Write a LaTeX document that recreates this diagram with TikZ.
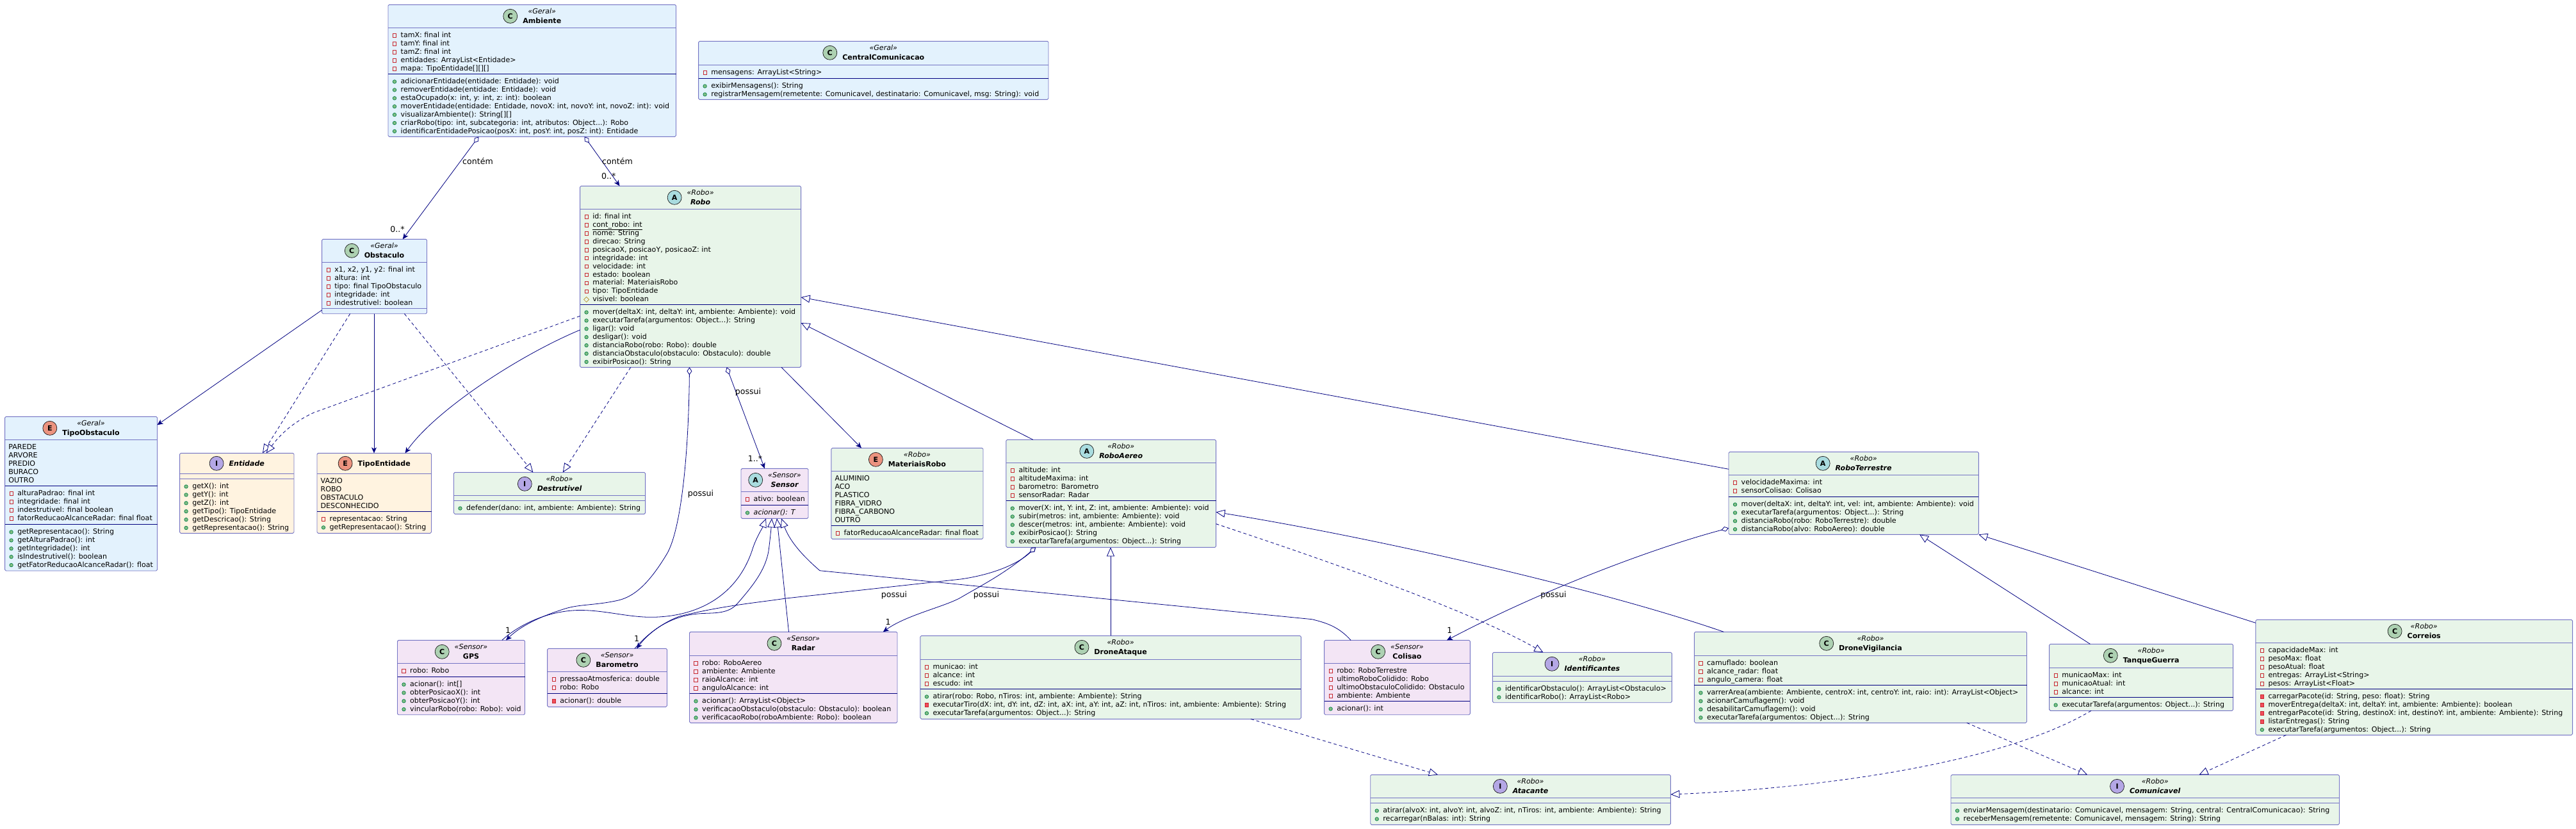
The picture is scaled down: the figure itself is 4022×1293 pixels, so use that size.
\documentclass[tikz,border=0pt]{standalone}
\usepackage{fontspec}
\setmainfont{DejaVu Sans}
\usetikzlibrary{arrows.meta,shapes.geometric}

\definecolor{geralfill}{HTML}{E3F2FD}
\definecolor{robofill}{HTML}{E8F5E9}
\definecolor{sensorfill}{HTML}{F3E5F5}
\definecolor{corefill}{HTML}{FFF3E0}
\definecolor{boxline}{HTML}{7474C4}
\definecolor{linknavy}{HTML}{000080}
\definecolor{iconC}{HTML}{ADD1B2}
\definecolor{iconA}{HTML}{A9DCDF}
\definecolor{iconI}{HTML}{B4A7E5}
\definecolor{iconE}{HTML}{EB937F}
\definecolor{privline}{HTML}{C82930}
\definecolor{privfill}{HTML}{F24D5C}
\definecolor{publine}{HTML}{038048}
\definecolor{pubfill}{HTML}{84BE84}
\definecolor{protline}{HTML}{B38D22}

\newcommand{\umlfont}{\fontsize{11.07}{13}\selectfont}
\newcommand{\labelfont}{\fontsize{12.6}{15}\selectfont}

\tikzset{
  classbox/.style={draw=boxline,line width=0.9pt,rectangle,rounded corners=1.8pt,inner sep=0pt,outer sep=0pt},
  geral/.style={fill=geralfill},
  robo/.style={fill=robofill},
  sensor/.style={fill=sensorfill},
  core/.style={fill=corefill},
  kindicon/.style={circle,draw=black!90,line width=0.7pt,minimum size=22pt,inner sep=0pt,font=\umlfont\bfseries},
  kindC/.style={fill=iconC},
  kindA/.style={fill=iconA},
  kindI/.style={fill=iconI},
  kindE/.style={fill=iconE},
  headtext/.style={anchor=base,inner sep=0pt,font=\umlfont},
  rowtext/.style={anchor=base west,inner sep=0pt,font=\umlfont},
  iconpv/.style={rectangle,draw=privline,line width=0.7pt,minimum size=5.5pt,inner sep=0pt},
  iconpr/.style={rectangle,draw=privline,fill=privfill,line width=0.7pt,minimum size=5.5pt,inner sep=0pt},
  iconpb/.style={circle,draw=publine,fill=pubfill,line width=0.7pt,minimum size=5.5pt,inner sep=0pt},
  iconpt/.style={diamond,draw=protline,line width=0.7pt,minimum size=8.5pt,inner sep=0pt},
  sepl/.style={draw=boxline,line width=0.9pt},
  sepd/.style={draw=linknavy,line width=1pt},
  link/.style={draw=linknavy,line width=0.8pt},
  assoc/.style={link,-{Stealth[length=9pt,width=8pt,inset=2.5pt]}},
  aggr/.style={link,{Diamond[length=12pt,width=8pt,fill=white]}-{Stealth[length=9pt,width=8pt,inset=2.5pt]}},
  extend/.style={link,-{Triangle[length=14pt,width=12pt,fill=white]}},
  realize/.style={extend,dash pattern=on 5pt off 4pt},
  linklabel/.style={inner sep=0pt,font=\labelfont},
}

\newlength\namew
\newlength\stw
\newlength\tmpw
\newcounter{rowno}

% [fill] id kind stereotype name left top right bottom
\newcommand{\umlclass}[9][geral]{%
  \gdef\curid{#2}\gdef\curL{#6}%
  \node[classbox,#1,minimum width={(#8-#6)*1pt},minimum height={(#9-#7)*1pt}] (#2) at ({(#6+#8)/2},{(#7+#9)/2}) {};
  \pgfinterruptpicture
    \settowidth\tmpw{\umlfont\bfseries #5}\global\namew=\tmpw
    \ifx\relax#4\relax \global\stw=0pt \else \settowidth\tmpw{\umlfont\itshape «#4»}\global\stw=\tmpw \fi
  \endpgfinterruptpicture
  \pgfmathsetmacro\hdw{max(\namew,\stw)}%
  \pgfmathsetmacro\hdx{(#6+#8)/2-(31+\hdw)/2}%
  \ifx\relax#4\relax
    \node[kindicon,kind#3] (#2-ic) at ({\hdx+11.5},{#7+16}) {#3};
    \node[headtext] (#2-nm) at ({\hdx+31+\hdw/2},{#7+20}) {\bfseries #5};
  \else
    \node[kindicon,kind#3] (#2-ic) at ({\hdx+11.5},{#7+18}) {#3};
    \node[headtext] (#2-st) at ({\hdx+31+\hdw/2},{#7+14.5}) {\itshape «#4»};
    \node[headtext] (#2-nm) at ({\hdx+31+\hdw/2},{#7+28.7}) {\bfseries #5};
  \fi
}
\newcommand{\sepl}[1]{\draw[sepl] (\curid.west |- 0,#1) -- (\curid.east |- 0,#1);}
\newcommand{\sepd}[1]{\draw[sepd] (\curid.west |- 0,#1) -- (\curid.east |- 0,#1);}
\newcommand{\rows}[2]{%
  \foreach \rk/\rt [count=\rn] in {#2} {
    \stepcounter{rowno}
    \node[style/.expanded=icon\rk] (\curid-i\therowno) at ({\curL+10},{#1+12.2+12.9*(\rn-1)}) {};
    \node[rowtext] (\curid-r\therowno) at ({\curL+19.5},{#1+15.4+12.9*(\rn-1)}) {\rt};
  }
}
\newcommand{\vals}[2]{%
  \foreach \rt [count=\rn] in {#2} {
    \stepcounter{rowno}
    \node[rowtext] (\curid-r\therowno) at ({\curL+5.5},{#1+15.4+12.9*(\rn-1)}) {\rt};
  }
}

\begin{document}
\begin{tikzpicture}[x=1pt,y=-1pt]
  \useasboundingbox (0,0) rectangle (4022,1293);

  \umlclass[geral]{Ambiente}{C}{Geral}{Ambiente}{606}{7.3}{1055.5}{213.3}
  \sepl{43.3}
  \rows{43.3}{pv/{tamX: final int},pv/{tamY: final int},pv/{tamZ: final int},pv/{entidades: ArrayList<Entidade>},pv/{mapa: TipoEntidade[][][]}}
  \sepd{115.3}
  \rows{115.3}{pb/{adicionarEntidade(entidade: Entidade): void},pb/{removerEntidade(entidade: Entidade): void},pb/{estaOcupado(x: int, y: int, z: int): boolean},pb/{moverEntidade(entidade: Entidade, novoX: int, novoY: int, novoZ: int): void},pb/{visualizarAmbiente(): String[][]},pb/{criarRobo(tipo: int, subcategoria: int, atributos: Object...): Robo},pb/{identificarEntidadePosicao(posX: int, posY: int, posZ: int): Entidade}}

  \umlclass[geral]{CentralComunicacao}{C}{Geral}{CentralComunicacao}{1090.6}{64.3}{1637}{155.3}
  \sepl{101.3}
  \rows{101.3}{pv/{mensagens: ArrayList<String>}}
  \sepd{122.3}
  \rows{122.3}{pb/{exibirMensagens(): String},pb/{registrarMensagem(remetente: Comunicavel, destinatario: Comunicavel, msg: String): void}}

  \umlclass[geral]{Obstaculo}{C}{Geral}{Obstaculo}{502.6}{373.3}{666.5}{489.7}
  \sepl{409.3}
  \rows{409.3}{pv/{x1, x2, y1, y2: final int},pv/{altura: int},pv/{tipo: final TipoObstaculo},pv/{integridade: int},pv/{indestrutivel: boolean}}
  \sepl{481.3}

  \umlclass[geral]{TipoObstaculo}{E}{Geral}{TipoObstaculo}{7.6}{650.3}{245.5}{891}
  \sepl{686.3}
  \vals{686.3}{PAREDE,ARVORE,PREDIO,BURACO,OUTRO}
  \sepd{758.3}
  \rows{758.3}{pv/{alturaPadrao: final int},pv/{integridade: final int},pv/{indestrutivel: final boolean},pv/{fatorReducaoAlcanceRadar: final float}}
  \sepd{818.3}
  \rows{818.3}{pb/{getRepresentacao(): String},pb/{getAlturaPadrao(): int},pb/{getIntegridade(): int},pb/{isIndestrutivel(): boolean},pb/{getFatorReducaoAlcanceRadar(): float}}

  \umlclass[core]{Entidade}{I}{}{\itshape Entidade}{280.6}{707.3}{459}{832.3}
  \sepl{739.3}
  \sepl{747.3}
  \rows{747.3}{pb/{getX(): int},pb/{getY(): int},pb/{getZ(): int},pb/{getTipo(): TipoEntidade},pb/{getDescricao(): String},pb/{getRepresentacao(): String}}

  \umlclass[core]{TipoEntidade}{E}{}{TipoEntidade}{495}{707.3}{673.5}{832.3}
  \sepl{739.3}
  \vals{739.3}{VAZIO,ROBO,OBSTACULO,DESCONHECIDO}
  \sepd{798.3}
  \rows{798.3}{pv/{representacao: String},pb/{getRepresentacao(): String}}

  \umlclass[robo]{Destrutivel}{I}{Robo}{\itshape Destrutivel}{708.5}{737.3}{1007.6}{802.3}
  \sepl{773.3}
  \sepl{781.3}
  \rows{781.3}{pb/{defender(dano: int, ambiente: Ambiente): String}}

  \umlclass[robo]{Robo}{A}{Robo}{\itshape Robo}{905.6}{290.3}{1250.6}{573.3}
  \sepl{326.3}
  \rows{326.3}{pv/{id: final int},pv/{\underline{cont\_robo: int}},pv/{nome: String},pv/{direcao: String},pv/{posicaoX, posicaoY, posicaoZ: int},pv/{integridade: int},pv/{velocidade: int},pv/{estado: boolean},pv/{material: MateriaisRobo},pv/{tipo: TipoEntidade},pt/{visivel: boolean}}
  \sepd{475.3}
  \rows{475.3}{pb/{mover(deltaX: int, deltaY: int, ambiente: Ambiente): void},pb/{executarTarefa(argumentos: Object...): String},pb/{ligar(): void},pb/{desligar(): void},pb/{distanciaRobo(robo: Robo): double},pb/{distanciaObstaculo(obstaculo: Obstaculo): double},pb/{exibirPosicao(): String}}

  \umlclass[sensor]{Sensor}{A}{Sensor}{\itshape Sensor}{1157}{731.3}{1262}{809.3}
  \sepl{767.3}
  \rows{767.3}{pv/{ativo: boolean}}
  \sepd{788.3}
  \rows{788.3}{pb/{\itshape acionar(): T}}

  \umlclass[robo]{MateriaisRobo}{E}{Robo}{MateriaisRobo}{1297.8}{699.3}{1535}{841.3}
  \sepl{735.3}
  \vals{735.3}{ALUMINIO,ACO,PLASTICO,FIBRA\_VIDRO,FIBRA\_CARBONO,OUTRO}
  \sepd{820.3}
  \rows{820.3}{pv/{fatorReducaoAlcanceRadar: final float}}

  \umlclass[robo]{RoboAereo}{A}{Robo}{\itshape RoboAereo}{1570.8}{686.3}{1898.6}{854.3}
  \sepl{722.3}
  \rows{722.3}{pv/{altitude: int},pv/{altitudeMaxima: int},pv/{barometro: Barometro},pv/{sensorRadar: Radar}}
  \sepd{781.3}
  \rows{781.3}{pb/{mover(X: int, Y: int, Z: int, ambiente: Ambiente): void},pb/{subir(metros: int, ambiente: Ambiente): void},pb/{descer(metros: int, ambiente: Ambiente): void},pb/{exibirPosicao(): String},pb/{executarTarefa(argumentos: Object...): String}}

  \umlclass[robo]{RoboTerrestre}{A}{Robo}{\itshape RoboTerrestre}{2699}{705.3}{3089.3}{834.3}
  \sepl{741.3}
  \rows{741.3}{pv/{velocidadeMaxima: int},pv/{sensorColisao: Colisao}}
  \sepd{775.3}
  \rows{775.3}{pb/{mover(deltaX: int, deltaY: int, vel: int, ambiente: Ambiente): void},pb/{executarTarefa(argumentos: Object...): String},pb/{distanciaRobo(robo: RoboTerrestre): double},pb/{distanciaRobo(alvo: RoboAereo): double}}

  \umlclass[sensor]{GPS}{C}{Sensor}{GPS}{620.5}{999.3}{819.5}{1115.7}
  \sepl{1035.3}
  \rows{1035.3}{pv/{robo: Robo}}
  \sepd{1056.3}
  \rows{1056.3}{pb/{acionar(): int[]},pb/{obterPosicaoX(): int},pb/{obterPosicaoY(): int},pb/{vincularRobo(robo: Robo): void}}

  \umlclass[sensor]{Barometro}{C}{Sensor}{Barometro}{854.6}{1012.3}{1041.5}{1103.3}
  \sepl{1048.3}
  \rows{1048.3}{pv/{pressaoAtmosferica: double},pv/{robo: Robo}}
  \sepd{1082.3}
  \rows{1082.3}{pr/{acionar(): double}}

  \umlclass[sensor]{Radar}{C}{Sensor}{Radar}{1076.5}{986.3}{1401}{1128.3}
  \sepl{1023.3}
  \rows{1023.3}{pv/{robo: RoboAereo},pv/{ambiente: Ambiente},pv/{raioAlcance: int},pv/{anguloAlcance: int}}
  \sepd{1082.3}
  \rows{1082.3}{pb/{acionar(): ArrayList<Object>},pb/{verificacaoObstaculo(obstaculo: Obstaculo): boolean},pb/{verificacaoRobo(roboAmbiente: Robo): boolean}}

  \umlclass[robo]{DroneAtaque}{C}{Robo}{DroneAtaque}{1436.9}{992.3}{2031.3}{1122.3}
  \sepl{1029.3}
  \rows{1029.3}{pv/{municao: int},pv/{alcance: int},pv/{escudo: int}}
  \sepd{1075.3}
  \rows{1075.3}{pb/{atirar(robo: Robo, nTiros: int, ambiente: Ambiente): String},pr/{executarTiro(dX: int, dY: int, dZ: int, aX: int, aY: int, aZ: int, nTiros: int, ambiente: Ambiente): String},pb/{executarTarefa(argumentos: Object...): String}}

  \umlclass[sensor]{Colisao}{C}{Sensor}{Colisao}{2067.6}{999.3}{2295.3}{1115.7}
  \sepl{1035.3}
  \rows{1035.3}{pv/{robo: RoboTerrestre},pv/{ultimoRoboColidido: Robo},pv/{ultimoObstaculoColidido: Obstaculo},pv/{ambiente: Ambiente}}
  \sepd{1094.3}
  \rows{1094.3}{pb/{acionar(): int}}

  \umlclass[robo]{Identificantes}{I}{Robo}{\itshape Identificantes}{2330.4}{1018.3}{2610.3}{1096.7}
  \sepl{1055.3}
  \sepl{1063.3}
  \rows{1063.3}{pb/{identificarObstaculo(): ArrayList<Obstaculo>},pb/{identificarRobo(): ArrayList<Robo>}}

  \umlclass[robo]{DroneVigilancia}{C}{Robo}{DroneVigilancia}{2645.4}{986.3}{3164.5}{1128.3}
  \sepl{1023.3}
  \rows{1023.3}{pv/{camuflado: boolean},pv/{alcance\_radar: float},pv/{angulo\_camera: float}}
  \sepd{1069.3}
  \rows{1069.3}{pb/{varrerArea(ambiente: Ambiente, centroX: int, centroY: int, raio: int): ArrayList<Object>},pb/{acionarCamuflagem(): void},pb/{desabilitarCamuflagem(): void},pb/{executarTarefa(argumentos: Object...): String}}

  \umlclass[robo]{TanqueGuerra}{C}{Robo}{TanqueGuerra}{3199.6}{1005.3}{3486.6}{1109.3}
  \sepl{1042.3}
  \rows{1042.3}{pv/{municaoMax: int},pv/{municaoAtual: int},pv/{alcance: int}}
  \sepd{1088.3}
  \rows{1088.3}{pb/{executarTarefa(argumentos: Object...): String}}

  \umlclass[robo]{Correios}{C}{Robo}{Correios}{3521.8}{967.3}{4016.5}{1147.3}
  \sepl{1003.3}
  \rows{1003.3}{pv/{capacidadeMax: int},pv/{pesoMax: float},pv/{pesoAtual: float},pv/{entregas: ArrayList<String>},pv/{pesos: ArrayList<Float>}}
  \sepd{1075.3}
  \rows{1075.3}{pr/{carregarPacote(id: String, peso: float): String},pr/{moverEntrega(deltaX: int, deltaY: int, ambiente: Ambiente): boolean},pr/{entregarPacote(id: String, destinoX: int, destinoY: int, ambiente: Ambiente): String},pr/{listarEntregas(): String},pb/{executarTarefa(argumentos: Object...): String}}

  \umlclass[robo]{Atacante}{I}{Robo}{\itshape Atacante}{2139.7}{1209.3}{2608.4}{1287.3}
  \sepl{1245.3}
  \sepl{1253.3}
  \rows{1253.3}{pb/{atirar(alvoX: int, alvoY: int, alvoZ: int, nTiros: int, ambiente: Ambiente): String},pb/{recarregar(nBalas: int): String}}

  \umlclass[robo]{Comunicavel}{I}{Robo}{\itshape Comunicavel}{3046}{1209.3}{3652.4}{1287.3}
  \sepl{1245.3}
  \sepl{1253.3}
  \rows{1253.3}{pb/{enviarMensagem(destinatario: Comunicavel, mensagem: String, central: CentralComunicacao): String},pb/{receberMensagem(remetente: Comunicavel, mensagem: String): String}}

  \draw[aggr] (747.4,0 |- Ambiente.south) -- (628.8,0 |- Obstaculo.north);
  \draw[aggr] (912.6,0 |- Ambiente.south) -- (967.5,0 |- Robo.north);
  \draw[assoc] (Obstaculo.west |- 0,484) -- (TipoObstaculo.east |- 0,663.3);
  \draw[realize] (546.6,0 |- Obstaculo.south) -- (410,0 |- Entidade.north);
  \draw[assoc] (584,0 |- Obstaculo.south) -- (584,0 |- TipoEntidade.north);
  \draw[realize] (631.4,0 |- Obstaculo.south) -- (832.3,0 |- Destrutivel.north);
  \draw[realize] (Robo.west |- 0,493.3) -- (490,644) .. controls (460,658) and (440,675) .. (415.8,0 |- Entidade.north);
  \draw[assoc] (Robo.west |- 0,515) .. controls (810,555) and (680,640) .. (632.6,0 |- TipoEntidade.north);
  \draw[realize] (984.7,0 |- Robo.south) -- (878.8,0 |- Destrutivel.north);
  \draw[aggr] (1076.5,0 |- Robo.south) .. controls (1075,720) and (1062,830) .. (1041,865) .. controls (1018,903) and (995,930) .. (965.6,937) .. controls (930,945) and (905,943) .. (882.6,950) .. controls (850,960) and (815,975) .. (790,0 |- GPS.north);
  \draw[aggr] (1134.6,0 |- Robo.south) -- (1193.9,0 |- Sensor.north);
  \draw[assoc] (1220,0 |- Robo.south) -- (1345,0 |- MateriaisRobo.north);
  \draw[extend] (1612.9,0 |- RoboAereo.north) -- (Robo.east |- 0,504);
  \draw[extend] (RoboTerrestre.west |- 0,732.3) -- (Robo.east |- 0,464);
  \draw[extend] (783.8,0 |- GPS.north) .. controls (810,975) and (860,950) .. (914.5,952.7) .. controls (950,954) and (985,964) .. (1020,963.3) .. controls (1090,962) and (1150,930) .. (1174,860) .. controls (1180,840) and (1190,825) .. (1196,0 |- Sensor.south);
  \draw[extend] (991,0 |- Barometro.north) .. controls (1015,985) and (1045,962) .. (1090,958) .. controls (1110,956) and (1135,960) .. (1150.5,943) .. controls (1175,915) and (1195,890) .. (1200,860) .. controls (1202,845) and (1204,825) .. (1205,0 |- Sensor.south);
  \draw[extend] (1231.5,0 |- Radar.north) -- (1213,0 |- Sensor.south);
  \draw[extend] (2109,0 |- Colisao.north) .. controls (2090,978) and (2070,972) .. (2048.5,966.7) -- (1280,890.7) .. controls (1262,875) and (1235,850) .. (1220,0 |- Sensor.south);
  \draw[aggr] (1617,0 |- RoboAereo.south) .. controls (1590,880) and (1550,897) .. (1500,904) -- (1227,934) .. controls (1180,941) and (1130,945) .. (1061,962) .. controls (1040,970) and (1015,985) .. (994,0 |- Barometro.north);
  \draw[aggr] (1617,0 |- RoboAereo.south) .. controls (1570,895) and (1530,915) .. (1500,932.7) .. controls (1475,947) and (1415,960) .. (1378.8,0 |- Radar.north);
  \draw[aggr] (RoboTerrestre.west |- 0,824.3) .. controls (2580,856) and (2410,920) .. (2259,0 |- Colisao.north);
  \draw[realize] (RoboAereo.east |- 0,817.7) .. controls (2050,868) and (2290,950) .. (2409.4,0 |- Identificantes.north);
  \draw[extend] (1734,0 |- DroneAtaque.north) -- (1734,0 |- RoboAereo.south);
  \draw[extend] (2691.3,0 |- DroneVigilancia.north) .. controls (2500,920) and (2150,840) .. (RoboAereo.east |- 0,799.3);
  \draw[extend] (3263.4,0 |- TanqueGuerra.north) -- (2997,0 |- RoboTerrestre.south);
  \draw[extend] (Correios.west |- 0,972.3) -- (RoboTerrestre.east |- 0,834.3);
  \draw[realize] (1952.8,0 |- DroneAtaque.south) -- (2245,0 |- Atacante.north);
  \draw[realize] (3265,0 |- TanqueGuerra.south) .. controls (3130,1190) and (2850,1230) .. (Atacante.east |- 0,1240);
  \draw[realize] (3070.8,0 |- DroneVigilancia.south) -- (3259,0 |- Comunicavel.north);
  \draw[realize] (3569.4,0 |- Correios.south) -- (3433.5,0 |- Comunicavel.north);

  \node[linklabel] (lblContemA) at (746,251.7) {contém};
  \node[linklabel] (lblContemB) at (964,251.7) {contém};
  \node[linklabel] (lblObstMany) at (620.5,357.7) {0..*};
  \node[linklabel] (lblRoboMany) at (950.3,274.7) {0..*};
  \node[linklabel] (lblPossuiGps) at (1094,771) {possui};
  \node[linklabel] (lblPossuiSensor) at (1168,611.7) {possui};
  \node[linklabel] (lblSensorMany) at (1179,716) {1..*};
  \node[linklabel] (lblGpsOne) at (793,984) {1};
  \node[linklabel] (lblBarOne) at (994,996.7) {1};
  \node[linklabel] (lblRadarOne) at (1386.5,970.7) {1};
  \node[linklabel] (lblPossuiBar) at (1396,929) {possui};
  \node[linklabel] (lblPossuiRadar) at (1540,929) {possui};
  \node[linklabel] (lblPossuiCol) at (2425.4,929) {possui};
  \node[linklabel] (lblColOne) at (2263.4,983.7) {1};
\end{tikzpicture}
\end{document}
